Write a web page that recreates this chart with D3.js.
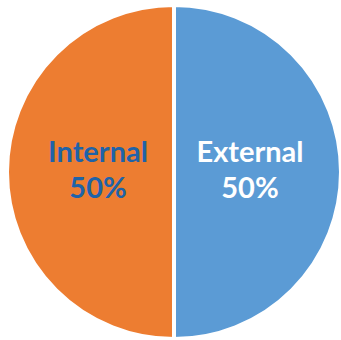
<!DOCTYPE html>
<html>
<head>
<meta charset="utf-8">
<script src="https://cdn.jsdelivr.net/npm/d3@7"></script>
<style>
  body { margin: 0; background: #fff; }
  svg { display: block; }
</style>
</head>
<body>
<svg width="341" height="340"></svg>
<script>
// Chart data
const categories = ["External", "Internal"];
const shares = [50, 50];
const sliceColors = ["#5B9BD5", "#ED7D31"];
const labelColors = ["#ffffff", "#1F63A8"];

const svg = d3.select("svg");
const cx = 174, cy = 172, radius = 167;

const g = svg.append("g")
    .attr("transform", `translate(${cx},${cy})`);

const pie = d3.pie()
    .sort(null)
    .value(d => d.value);

const data = categories.map((c, i) => ({ name: c, value: shares[i], i: i }));
const arcs = pie(data);

const arc = d3.arc()
    .innerRadius(0)
    .outerRadius(radius);

// Slices
g.selectAll("path.slice")
    .data(arcs)
    .join("path")
    .attr("class", "slice")
    .attr("d", arc)
    .attr("fill", d => sliceColors[d.data.i])
    .attr("stroke", "#fff")
    .attr("stroke-width", 4)
    .attr("stroke-linejoin", "miter");

// Labels
const labelArc = d3.arc()
    .innerRadius(radius * 0.455)
    .outerRadius(radius * 0.455);

const labels = g.selectAll("text.label")
    .data(arcs)
    .join("text")
    .attr("class", "label")
    .attr("transform", d => {
        const [x, y] = labelArc.centroid(d);
        return `translate(${x},${y})`;
    })
    .attr("text-anchor", "middle")
    .attr("font-family", "Lato, 'Open Sans', sans-serif")
    .attr("font-weight", "bold")
    .attr("font-size", 29)
    .attr("fill", d => labelColors[d.data.i]);

labels.append("tspan")
    .attr("x", 0)
    .attr("y", -10)
    .text(d => d.data.name);

labels.append("tspan")
    .attr("x", 0)
    .attr("y", 26)
    .text(d => d.data.value + "%");
</script>
</body>
</html>
